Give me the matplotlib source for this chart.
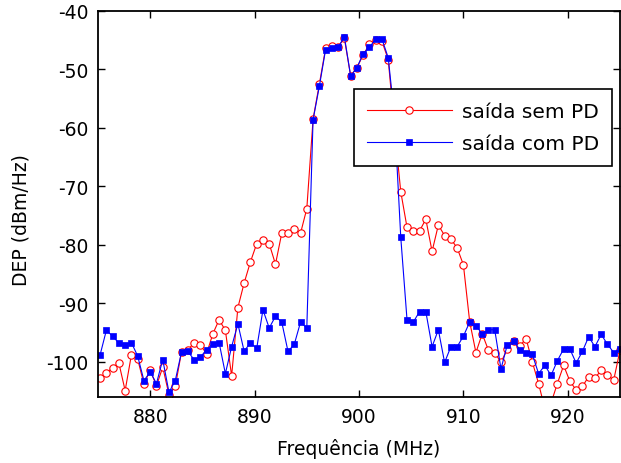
import numpy as np
import matplotlib
matplotlib.use('Agg')
import matplotlib.pyplot as plt

plt.rcParams['font.family'] = ['DejaVu Sans']
plt.rcParams['axes.unicode_minus'] = False

# Frequências (MHz) : 84 pontos de 875.2 a 925 MHz, passo de 0.6 MHz
freq = np.linspace(875.2, 925.0, 84)

# DEP (dBm/Hz) sem pré-distorção
sem_pd = [-102.7, -101.9, -101.0, -100.2, -104.9, -98.8, -99.5, -103.8, -101.4, -104.1,
          -100.9, -105.6, -104.2, -98.3, -98.0, -96.7, -97.1, -98.6, -95.2, -92.8,
          -94.6, -102.4, -90.7, -86.5, -82.9, -79.8, -79.1, -79.8, -83.3, -78.0,
          -78.0, -77.3, -78.0, -73.8, -58.5, -52.5, -46.4, -45.9, -46.1, -44.7,
          -51.1, -49.7, -47.5, -45.7, -45.0, -45.2, -48.3, -60.1, -70.9, -77.0,
          -77.6, -77.6, -75.6, -81.1, -76.6, -78.4, -79.0, -80.5, -83.4, -93.1,
          -98.4, -95.2, -98.0, -98.4, -100.1, -97.8, -96.4, -97.3, -96.0, -100.0,
          -103.7, -108.0, -107.0, -103.7, -100.6, -103.3, -104.8, -104.2, -102.5, -102.8,
          -101.4, -102.3, -103.1, -98.0]

# DEP (dBm/Hz) com pré-distorção
com_pd = [-98.8, -94.6, -95.6, -96.8, -97.1, -96.7, -99.0, -103.2, -101.7, -103.7,
          -99.6, -105.2, -103.2, -98.3, -98.2, -99.6, -99.2, -97.9, -96.9, -96.7,
          -102.0, -97.4, -93.5, -98.2, -96.7, -97.7, -91.1, -94.2, -92.2, -93.2,
          -98.2, -97.0, -93.2, -94.2, -58.6, -52.9, -46.6, -46.4, -46.2, -44.4,
          -51.1, -49.7, -47.3, -46.2, -44.8, -44.8, -48.0, -58.2, -78.7, -92.8,
          -93.2, -91.4, -91.4, -97.4, -94.5, -100.1, -97.4, -97.4, -95.6, -93.2,
          -93.8, -95.2, -94.5, -94.5, -101.2, -97.1, -96.4, -97.9, -98.5, -98.7,
          -102.0, -100.6, -102.3, -99.8, -97.8, -97.8, -100.2, -98.2, -95.7, -97.4,
          -95.3, -97.0, -98.4, -97.8]

fig = plt.figure(figsize=(6.21, 4.64), dpi=100)
ax = fig.add_axes([98 / 621, 1 - 398 / 464, (620 - 98) / 621, (398 - 12) / 464])

ax.plot(freq, sem_pd, '-o', color='red', lw=0.8, markersize=5.3,
        markerfacecolor='white', markeredgewidth=0.8, label='saída sem PD')
ax.plot(freq, com_pd, '-s', color='blue', lw=0.8, markersize=5,
        markerfacecolor='blue', markeredgewidth=0.5, label='saída com PD')

ax.set_xlim(875, 925)
ax.set_ylim(-106, -40)
ax.set_xticks([880, 890, 900, 910, 920])
ax.set_yticks([-100, -90, -80, -70, -60, -50, -40])
ax.tick_params(direction='in', top=True, right=True, length=5, width=1,
               labelsize=13.5, pad=7)
for s in ax.spines.values():
    s.set_linewidth(1.3)

ax.set_xlabel('Frequência (MHz)', fontsize=13.5, labelpad=9)
ax.set_ylabel('DEP (dBm/Hz)', fontsize=13.5)
ax.yaxis.set_label_coords(-0.13, 0.46)

leg = ax.legend(loc='upper right', bbox_to_anchor=(612 / 621, 1 - 90 / 464),
                bbox_transform=fig.transFigure, borderaxespad=0, fontsize=14.5,
                handlelength=4.2, fancybox=False, framealpha=1, edgecolor='black',
                borderpad=0.65, labelspacing=0.65, handletextpad=0.5)
leg.get_frame().set_linewidth(1.2)

fig.savefig('out.png', dpi=100)
